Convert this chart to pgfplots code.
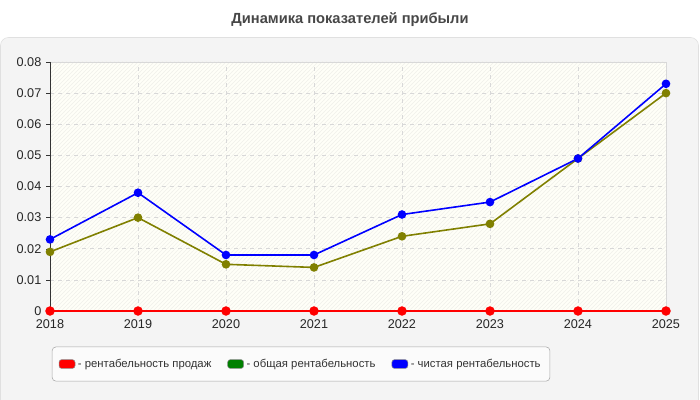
\documentclass[border=0pt]{standalone}
\usepackage{fontspec}
\setmainfont{Liberation Sans}
\usepackage{pgfplots}
\pgfplotsset{compat=1.18}
\usetikzlibrary{patterns}

\definecolor{panel}{HTML}{F4F4F4}
\definecolor{panelline}{HTML}{E0E0E0}
\definecolor{plotbg}{HTML}{FFFFF8}
\definecolor{hatch}{HTML}{F0F0EA}
\definecolor{gridc}{HTML}{D8D8D8}
\definecolor{olivec}{HTML}{808000}
\definecolor{greenc}{HTML}{008000}

\begin{document}
\begin{tikzpicture}[x=0.75pt,y=0.75pt]
\path[use as bounding box] (0,0) rectangle (700,400);
\fill[white] (0,0) rectangle (700,400);
\draw[panelline, fill=panel, rounded corners=6pt] (0.5,-10) rectangle (698.5,362.5);
\node[font=\bfseries\fontsize{11}{13}\selectfont, text=black!72] at (350,380) {Динамика показателей прибыли};
% plot area background
\fill[plotbg] (50,89) rectangle (666,338);
\fill[pattern=north east lines, pattern color=hatch] (50,89) rectangle (666,338);
\draw[gridc] (50,338) -- (666,338) -- (666,89);

\begin{axis}[
  at={(37.5pt,66.75pt)}, anchor=south west,
  scale only axis, width=462pt, height=186.75pt,
  xmin=2018, xmax=2025, ymin=0, ymax=0.08,
  xtick={2018,...,2025}, ytick={0,0.01,...,0.08},
  scaled y ticks=false,
  x tick label style={/pgf/number format/1000 sep={}},
  y tick label style={/pgf/number format/fixed, /pgf/number format/precision=2},
  /pgf/number format/assume math mode=true,
  ticklabel style={font=\fontsize{9.5}{11}\selectfont, text=black!85},
  axis x line=bottom, axis y line=left,
  axis line style={black!80, -},
  tick align=outside, major tick length=3pt,
  tick style={black!80},
  grid=major, major grid style={gridc, dashed},
  clip=false,
  legend columns=3,
  legend style={at={(0.4075,-0.213)}, anchor=center,
    draw=black!35, fill=white!60!panel, rounded corners=3pt,
    font=\fontsize{8.5}{10}\selectfont, text=black!80,
    inner xsep=5pt, inner ysep=7pt,
    /tikz/every even column/.append style={column sep=10pt}},
  legend cell align=left,
]
\addplot[olivec, line width=1.2pt, mark=*, mark size=2.6pt, forget plot]
  coordinates {(2018,0.019) (2019,0.030) (2020,0.015) (2021,0.014) (2022,0.024) (2023,0.028) (2024,0.049) (2025,0.070)};
\addplot[blue, line width=1.2pt, mark=*, mark size=2.6pt, forget plot]
  coordinates {(2018,0.023) (2019,0.038) (2020,0.018) (2021,0.018) (2022,0.031) (2023,0.035) (2024,0.049) (2025,0.073)};
\addplot[red, line width=1.8pt, mark=*, mark size=2.6pt, forget plot]
  coordinates {(2018,0) (2019,0) (2020,0) (2021,0) (2022,0) (2023,0) (2024,0) (2025,0)};

\addlegendimage{legend image code/.code={\draw[black!45, fill=red, rounded corners=2pt] (0pt,-3.3pt) rectangle (12pt,3.3pt);}}
\addlegendentry{- рентабельность продаж}
\addlegendimage{legend image code/.code={\draw[black!45, fill=greenc, rounded corners=2pt] (0pt,-3.3pt) rectangle (12pt,3.3pt);}}
\addlegendentry{- общая рентабельность}
\addlegendimage{legend image code/.code={\draw[black!45, fill=blue, rounded corners=2pt] (0pt,-3.3pt) rectangle (12pt,3.3pt);}}
\addlegendentry{- чистая рентабельность}
\end{axis}
\end{tikzpicture}
\end{document}
